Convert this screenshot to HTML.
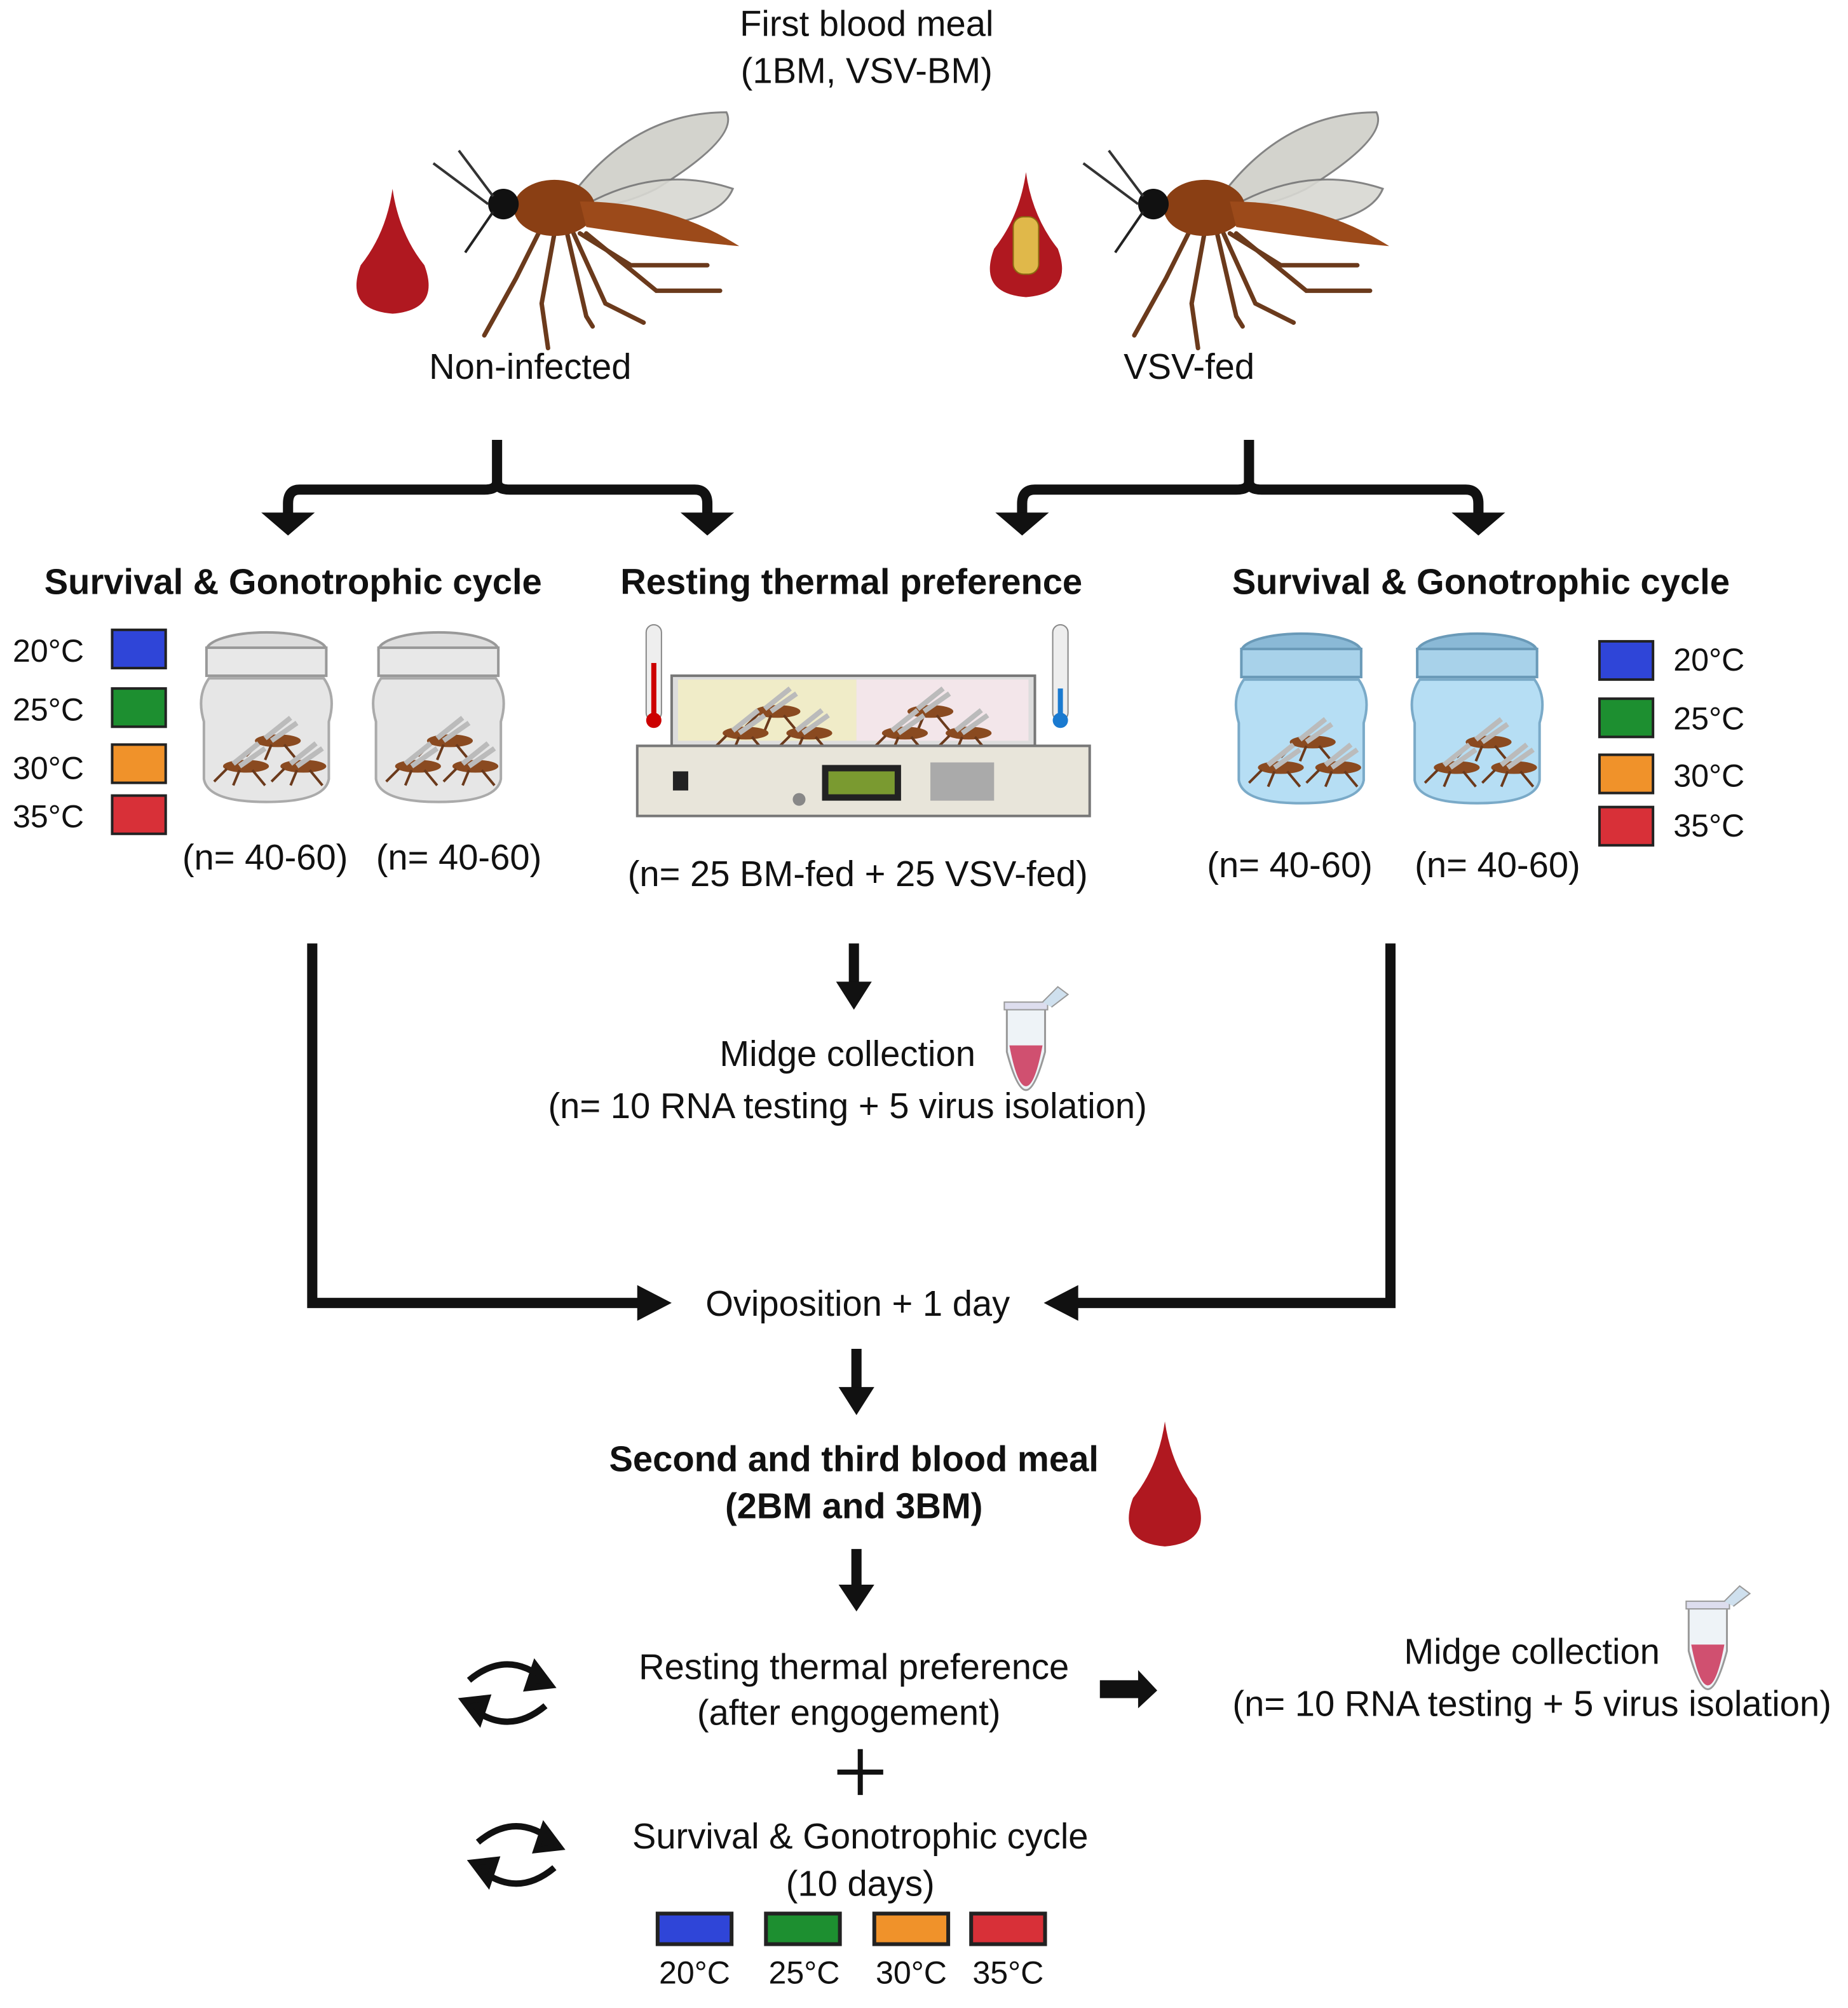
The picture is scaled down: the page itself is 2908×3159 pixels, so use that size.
<!DOCTYPE html>
<html><head><meta charset="utf-8"><style>
html,body{margin:0;padding:0;background:#fff;}
svg{display:block}
text{font-family:"Liberation Sans",sans-serif;fill:#111}
.t{font-size:28px}
.b{font-size:28px;font-weight:bold}
.s{font-size:25px}
</style></head><body>
<svg width="2908" height="3159" viewBox="0 0 1450 1575" xmlns="http://www.w3.org/2000/svg">
<defs>
<g id="mos">
 <path d="M80 70 Q130 0 205 0 Q215 20 150 60 Q110 80 80 70Z" fill="#cfcfc8" stroke="#777" stroke-width="1.5" opacity="0.9"/>
 <path d="M90 75 Q150 40 210 60 Q200 85 140 90Z" fill="#d8d8d2" stroke="#777" stroke-width="1.5" opacity="0.9"/>
 <g stroke="#6b3a1c" stroke-width="3.5" fill="none" stroke-linecap="round">
  <path d="M60 90 L40 130 L15 175"/>
  <path d="M70 95 L60 150 L65 185"/>
  <path d="M85 95 L110 150 L140 165"/>
  <path d="M90 95 L130 120 L190 120"/>
  <path d="M80 95 L95 160 L100 168"/>
  <path d="M95 95 L150 140 L200 140"/>
 </g>
 <ellipse cx="70" cy="75" rx="32" ry="22" fill="#8a3f14"/>
 <path d="M90 70 Q160 70 215 105 Q160 100 95 90Z" fill="#9c4a1a"/>
 <circle cx="30" cy="72" r="12" fill="#111"/>
 <path d="M22 66 L-5 30 M18 72 L-25 40" stroke="#333" stroke-width="2"/>
 <path d="M22 78 L0 110" stroke="#222" stroke-width="2"/>
</g>
<g id="drop"><path d="M30 0 Q35 35 55 60 Q68 95 30 98 Q-8 95 5 60 Q25 35 30 0Z" fill="#b01820"/></g>
<g id="smos">
 <ellipse cx="20" cy="10" rx="18" ry="5" fill="#8a4a20"/>
 <path d="M10 8 L30 -8 M15 10 L35 -4" stroke="#bbb" stroke-width="4"/>
 <path d="M5 12 L-5 22 M15 13 L10 25 M25 13 L35 25" stroke="#6b3a1c" stroke-width="2"/>
</g>
<g id="jarg">
 <ellipse cx="51" cy="14" rx="47" ry="14" fill="#ddd" stroke="#999" stroke-width="2"/>
 <rect x="4" y="12" width="94" height="22" fill="#e8e8e8" stroke="#999" stroke-width="2"/>
 <path d="M6 36 Q-4 50 2 70 L2 115 Q5 133 51 133 Q97 133 100 115 L100 70 Q106 50 96 36Z" fill="#e6e6e6" stroke="#aaa" stroke-width="2"/>
 <use href="#smos" x="40" y="75"/><use href="#smos" x="15" y="95"/><use href="#smos" x="60" y="95"/>
</g>
<g id="jarb">
 <ellipse cx="51" cy="14" rx="47" ry="14" fill="#8ab9d6" stroke="#6a9ab8" stroke-width="2"/>
 <rect x="4" y="12" width="94" height="22" fill="#a8d2ea" stroke="#6a9ab8" stroke-width="2"/>
 <path d="M6 36 Q-4 50 2 70 L2 115 Q5 133 51 133 Q97 133 100 115 L100 70 Q106 50 96 36Z" fill="#b6def4" stroke="#7aaac8" stroke-width="2"/>
 <use href="#smos" x="40" y="75"/><use href="#smos" x="15" y="95"/><use href="#smos" x="60" y="95"/>
</g>
<g id="tube">
 <path d="M0 10 L30 10 L30 45 Q22 75 15 75 Q8 75 0 45Z" fill="#eef3f7" stroke="#999" stroke-width="1.5"/>
 <path d="M2 40 L28 40 Q22 72 15 72 Q8 72 2 40Z" fill="#d05070"/>
 <rect x="-2" y="6" width="34" height="6" fill="#dde" stroke="#999"/>
 <path d="M28 6 L40 -6 L48 0 L35 10" fill="#cfe0ee" stroke="#999"/>
</g>
<g id="cyc" fill="none" stroke="#111" stroke-width="5">
 <path d="M-30 -10 Q0 -35 30 -10"/><path d="M30 10 Q0 35 -30 10"/>
 <path d="M22 -22 L34 -6 L16 -4Z" fill="#111"/><path d="M-22 22 L-34 6 L-16 4Z" fill="#111"/>
</g>
</defs>

<text class="t" x="680" y="28" text-anchor="middle">First blood meal</text>
<text class="t" x="680" y="65" text-anchor="middle">(1BM, VSV-BM)</text>
<use href="#drop" x="278" y="148"/>
<use href="#mos" x="365" y="88"/>
<use href="#drop" x="775" y="135"/>
<rect x="795" y="170" width="20" height="45" rx="8" fill="#e0b84a" stroke="#8a6a10"/>
<use href="#mos" x="875" y="88"/>
<text class="t" x="416" y="297" text-anchor="middle">Non-infected</text>
<text class="t" x="933" y="297" text-anchor="middle">VSV-fed</text>

<g fill="none" stroke="#111" stroke-width="8">
 <path d="M390 345 L390 378 Q390 384 380 384 L235 384 Q226 384 226 395 L226 405"/>
 <path d="M390 378 Q390 384 400 384 L545 384 Q555 384 555 395 L555 405"/>
 <path d="M980 345 L980 378 Q980 384 970 384 L812 384 Q802 384 802 395 L802 405"/>
 <path d="M980 378 Q980 384 990 384 L1150 384 Q1160 384 1160 395 L1160 405"/>
</g>
<g fill="#111">
 <path d="M205 402 L247 402 L226 420Z"/><path d="M534 402 L576 402 L555 420Z"/>
 <path d="M781 402 L823 402 L802 420Z"/><path d="M1139 402 L1181 402 L1160 420Z"/>
</g>

<text class="b" x="230" y="466" text-anchor="middle">Survival &amp; Gonotrophic cycle</text>
<text class="b" x="668" y="466" text-anchor="middle">Resting thermal preference</text>
<text class="b" x="1162" y="466" text-anchor="middle">Survival &amp; Gonotrophic cycle</text>

<text class="s" x="10" y="519">20°C</text><text class="s" x="10" y="565">25°C</text>
<text class="s" x="10" y="611">30°C</text><text class="s" x="10" y="649">35°C</text>
<g stroke="#222" stroke-width="2">
<rect x="88" y="494" width="42" height="30" fill="#2f45d8"/>
<rect x="88" y="540" width="42" height="30" fill="#1d8f30"/>
<rect x="88" y="584" width="42" height="30" fill="#f0922a"/>
<rect x="88" y="624" width="42" height="30" fill="#d83038"/>
</g>
<use href="#jarg" x="158" y="496"/><use href="#jarg" x="293" y="496"/>
<text class="t" x="208" y="682" text-anchor="middle">(n= 40-60)</text>
<text class="t" x="360" y="682" text-anchor="middle">(n= 40-60)</text>

<rect x="527" y="530" width="285" height="55" fill="#ddd" stroke="#777" stroke-width="2"/>
<rect x="532" y="533" width="140" height="48" fill="#f0ecc8"/>
<rect x="672" y="533" width="135" height="48" fill="#f3e6ea"/>
<use href="#smos" x="590" y="548"/><use href="#smos" x="565" y="565"/><use href="#smos" x="615" y="565"/>
<use href="#smos" x="710" y="548"/><use href="#smos" x="690" y="565"/><use href="#smos" x="740" y="565"/>
<rect x="500" y="585" width="355" height="55" fill="#e8e5da" stroke="#777" stroke-width="2"/>
<rect x="528" y="605" width="12" height="15" fill="#222"/>
<rect x="645" y="600" width="62" height="28" fill="#222"/><rect x="650" y="605" width="52" height="18" fill="#7a9a30"/>
<circle cx="627" cy="627" r="5" fill="#888"/>
<g fill="#aaa"><rect x="730" y="598" width="50" height="30"/></g>
<rect x="507" y="490" width="12" height="75" rx="6" fill="#eee" stroke="#888"/>
<rect x="511" y="520" width="4" height="42" fill="#c00"/><circle cx="513" cy="565" r="6" fill="#c00"/>
<rect x="826" y="490" width="12" height="75" rx="6" fill="#eee" stroke="#888"/>
<rect x="830" y="540" width="4" height="22" fill="#1a7ad0"/><circle cx="832" cy="565" r="6" fill="#1a7ad0"/>
<text class="t" x="673" y="695" text-anchor="middle">(n= 25 BM-fed + 25 VSV-fed)</text>

<use href="#jarb" x="970" y="497"/><use href="#jarb" x="1108" y="497"/>
<g stroke="#222" stroke-width="2">
<rect x="1255" y="503" width="42" height="30" fill="#2f45d8"/>
<rect x="1255" y="548" width="42" height="30" fill="#1d8f30"/>
<rect x="1255" y="592" width="42" height="30" fill="#f0922a"/>
<rect x="1255" y="633" width="42" height="30" fill="#d83038"/>
</g>
<text class="s" x="1313" y="526">20°C</text><text class="s" x="1313" y="572">25°C</text>
<text class="s" x="1313" y="617">30°C</text><text class="s" x="1313" y="656">35°C</text>
<text class="t" x="1012" y="688" text-anchor="middle">(n= 40-60)</text>
<text class="t" x="1175" y="688" text-anchor="middle">(n= 40-60)</text>

<g fill="none" stroke="#111" stroke-width="8">
 <path d="M245 740 L245 1022 L505 1022"/>
 <path d="M1091 740 L1091 1022 L840 1022"/>
 <path d="M670 740 L670 772"/><path d="M672 1058 L672 1090"/><path d="M672 1215 L672 1245"/>
</g>
<g fill="#111">
 <path d="M500 1008 L527 1022 L500 1036Z"/><path d="M846 1008 L819 1022 L846 1036Z"/>
 <path d="M656 770 L684 770 L670 792Z"/><path d="M658 1088 L686 1088 L672 1110Z"/>
 <path d="M658 1243 L686 1243 L672 1264Z"/>
 <path d="M863 1318 L893 1318 L893 1310 L908 1326 L893 1340 L893 1332 L863 1332Z"/>
</g>
<use href="#tube" x="790" y="780"/>
<text class="t" x="665" y="836" text-anchor="middle">Midge collection</text>
<text class="t" x="665" y="877" text-anchor="middle">(n= 10 RNA testing + 5 virus isolation)</text>
<text class="t" x="673" y="1032" text-anchor="middle">Oviposition + 1 day</text>
<text class="b" x="670" y="1154" text-anchor="middle">Second and third  blood meal</text>
<text class="b" x="670" y="1191" text-anchor="middle">(2BM and 3BM)</text>
<use href="#drop" x="884" y="1115"/>

<use href="#cyc" x="398" y="1328"/><use href="#cyc" x="405" y="1455"/>
<text class="t" x="670" y="1317" text-anchor="middle">Resting thermal preference</text>
<text class="t" x="666" y="1353" text-anchor="middle">(after engogement)</text>
<use href="#tube" x="1325" y="1250"/>
<text class="t" x="1202" y="1305" text-anchor="middle">Midge collection</text>
<text class="t" x="1202" y="1346" text-anchor="middle">(n= 10 RNA testing + 5 virus isolation)</text>
<path d="M675 1372 L675 1408 M657 1390 L693 1390" stroke="#111" stroke-width="4"/>
<text class="t" x="675" y="1450" text-anchor="middle">Survival &amp; Gonotrophic cycle</text>
<text class="t" x="675" y="1487" text-anchor="middle">(10 days)</text>
<g stroke="#222" stroke-width="3">
<rect x="516" y="1501" width="58" height="24" fill="#2f45d8"/>
<rect x="601" y="1501" width="58" height="24" fill="#1d8f30"/>
<rect x="686" y="1501" width="58" height="24" fill="#f0922a"/>
<rect x="762" y="1501" width="58" height="24" fill="#d83038"/>
</g>
<text class="s" x="545" y="1556" text-anchor="middle">20°C</text>
<text class="s" x="631" y="1556" text-anchor="middle">25°C</text>
<text class="s" x="715" y="1556" text-anchor="middle">30°C</text>
<text class="s" x="791" y="1556" text-anchor="middle">35°C</text>
</svg>
</body></html>
